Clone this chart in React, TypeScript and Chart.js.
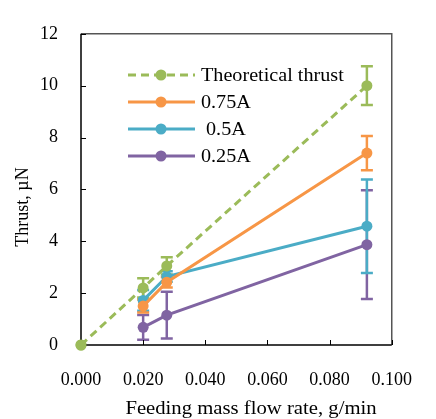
import React, { useEffect, useRef } from "react";
import { Chart, registerables } from "chart.js";

Chart.register(...registerables);

const seriesNames = ["Theoretical thrust", "0.75A", " 0.5A", "0.25A"];
const seriesColors = ["#9BBB59", "#F79646", "#4BACC6", "#8064A2"];

const theoX = [0, 0.02, 0.0276, 0.092];
const theoY = [0, 2.2, 3.05, 10.0];
const theoErr = [0, 0.37, 0.33, 0.75];

const measX = [0.02, 0.0276, 0.092];
const a075Y = [1.5, 2.42, 7.4];
const a075Err = [0.25, 0.2, 0.66];
const a05Y = [1.72, 2.64, 4.58];
const a05Err = [0.4, 0.2, 1.8];
const a025Y = [0.68, 1.15, 3.87];
const a025Err = [0.48, 0.9, 2.1];

const xTitle = "Feeding mass flow rate, g/min";
const yTitle = "Thrust, \u00B5N";

const FONT = "'Liberation Serif', 'Times New Roman', serif";

const toPts = (xs: number[], ys: number[]) => xs.map((x, i) => ({ x, y: ys[i] }));

export default function App() {
  const ref = useRef<HTMLCanvasElement | null>(null);

  useEffect(() => {
    if (!ref.current) return;
    const errs = [theoErr, a075Err, a05Err, a025Err];

    const stretchText = (ctx: any, text: string, x: number, y: number, sx: number, align: string) => {
      ctx.save();
      ctx.translate(x, y);
      ctx.scale(sx, 1);
      ctx.textAlign = align;
      ctx.fillText(text, 0, 0);
      ctx.restore();
    };

    const decor = {
      id: "decor",
      beforeDatasetsDraw(chart: any) {
        const { ctx } = chart;
        const xs = chart.scales.x;
        const ys = chart.scales.y;
        ctx.save();
        for (let d = 3; d >= 0; d--) {
          const ds = chart.data.datasets[d];
          ctx.strokeStyle = seriesColors[d];
          ctx.lineWidth = 2.5;
          ds.data.forEach((p: any, i: number) => {
            const e = errs[d][i];
            if (!e) return;
            const px = xs.getPixelForValue(p.x);
            const top = ys.getPixelForValue(p.y + e);
            const bot = ys.getPixelForValue(p.y - e);
            ctx.beginPath();
            ctx.moveTo(px, top);
            ctx.lineTo(px, bot);
            ctx.moveTo(px - 6, top);
            ctx.lineTo(px + 6, top);
            ctx.moveTo(px - 6, bot);
            ctx.lineTo(px + 6, bot);
            ctx.stroke();
          });
        }
        ctx.restore();
      },
      afterDatasetsDraw(chart: any) {
        const { ctx, chartArea } = chart;
        const xs = chart.scales.x;
        const ys = chart.scales.y;
        const { left, right, top, bottom } = chartArea;
        ctx.save();
        ctx.strokeStyle = "#555";
        ctx.lineWidth = 1.5;
        ctx.beginPath();
        ctx.moveTo(left, top);
        ctx.lineTo(right, top);
        ctx.lineTo(right, bottom);
        ctx.stroke();
        ctx.strokeStyle = "#000";
        ctx.beginPath();
        ctx.moveTo(left, top);
        ctx.lineTo(left, bottom);
        ctx.lineTo(right, bottom);
        ctx.stroke();
        ctx.lineWidth = 1;
        ctx.beginPath();
        ys.ticks.forEach((t: any) => {
          const py = Math.round(ys.getPixelForValue(t.value)) + 0.5;
          ctx.moveTo(left, py);
          ctx.lineTo(left + 5, py);
        });
        xs.ticks.forEach((t: any) => {
          const px = Math.round(xs.getPixelForValue(t.value)) + 0.5;
          ctx.moveTo(px, bottom);
          ctx.lineTo(px, bottom - 5);
        });
        ctx.stroke();
        const p0 = chart.getDatasetMeta(0).data[0];
        ctx.fillStyle = seriesColors[0];
        ctx.beginPath();
        ctx.arc(p0.x, p0.y, 5.5, 0, Math.PI * 2);
        ctx.fill();

        // legend
        const rows = [75, 102, 129, 156];
        ctx.font = `18px ${FONT}`;
        ctx.textBaseline = "middle";
        rows.forEach((ry, i) => {
          ctx.strokeStyle = seriesColors[i];
          ctx.lineWidth = 3;
          ctx.setLineDash(i === 0 ? [8, 5] : []);
          ctx.beginPath();
          ctx.moveTo(128, ry);
          ctx.lineTo(195, ry);
          ctx.stroke();
          ctx.setLineDash([]);
          ctx.fillStyle = seriesColors[i];
          ctx.beginPath();
          ctx.arc(161, ry, 5.5, 0, Math.PI * 2);
          ctx.fill();
          ctx.fillStyle = "#000";
          stretchText(ctx, seriesNames[i], 201, ry + 1, 1.12, "left");
        });

        // axis titles
        stretchText(ctx, xTitle, 251, 409, 1.15, "center");
        ctx.translate(23, 207);
        ctx.rotate(-Math.PI / 2);
        ctx.textAlign = "center";
        ctx.fillText(yTitle, 0, 0);
        ctx.restore();
      },
    };

    const mk = (label: string, xs: number[], ys: number[], c: string, dash: number[]) => ({
      label,
      data: toPts(xs, ys),
      borderColor: c,
      backgroundColor: c,
      borderWidth: 3,
      borderDash: dash,
      pointRadius: 5.5,
      pointBorderWidth: 0,
      pointBackgroundColor: c,
      pointBorderColor: c,
      showLine: true,
      tension: 0,
      clip: false as any,
    });

    const chart = new Chart(ref.current, {
      type: "scatter",
      data: {
        datasets: [
          mk(seriesNames[0], theoX, theoY, seriesColors[0], [8, 5]),
          mk(seriesNames[1], measX, a075Y, seriesColors[1], []),
          mk(seriesNames[2], measX, a05Y, seriesColors[2], []),
          mk(seriesNames[3], measX, a025Y, seriesColors[3], []),
        ],
      },
      options: {
        animation: false,
        responsive: false,
        devicePixelRatio: 1,
        layout: { padding: { left: 0, top: 17, right: 23, bottom: 0 } },
        plugins: { legend: { display: false }, tooltip: { enabled: false } },
        scales: {
          x: {
            type: "linear",
            min: 0,
            max: 0.1,
            grid: { display: false, drawTicks: false },
            border: { display: false },
            ticks: {
              stepSize: 0.02,
              padding: 24,
              color: "#000",
              font: { family: FONT, size: 18 },
              maxRotation: 0,
              callback: (v: any) => Number(v).toFixed(3),
            },
            afterFit: (s: any) => {
              s.height = 74;
            },
          },
          y: {
            type: "linear",
            min: 0,
            max: 12,
            grid: { display: false, drawTicks: false },
            border: { display: false },
            ticks: {
              stepSize: 2,
              padding: 23,
              color: "#000",
              font: { family: FONT, size: 18 },
            },
            afterFit: (s: any) => {
              s.width = 81;
            },
          },
        },
      },
      plugins: [decor],
    });
    return () => chart.destroy();
  }, []);

  return (
    <div style={{ position: "fixed", left: 0, top: 0, width: 436, height: 419, background: "#fff" }}>
      <canvas ref={ref} width={436} height={419} style={{ display: "block", width: 436, height: 419 }} />
    </div>
  );
}
